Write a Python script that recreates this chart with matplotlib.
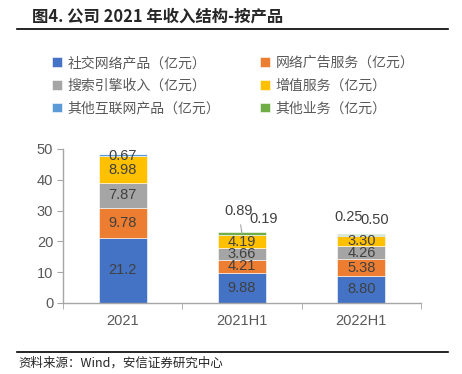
import numpy as np
import matplotlib
matplotlib.use("Agg")
import matplotlib.pyplot as plt
from matplotlib.ticker import FixedLocator

plt.rcParams["font.family"] = ["Noto Sans CJK SC", "DejaVu Sans"]

# données (亿元)
periods = ["2021", "2021H1", "2022H1"]
series_names = ["社交网络产品（亿元）", "网络广告服务（亿元）", "搜索引擎收入（亿元）",
                "增值服务（亿元）", "其他互联网产品（亿元）", "其他业务（亿元）"]
social = [21.2, 9.88, 8.80]
ads = [9.78, 4.21, 5.38]
search = [7.87, 3.66, 4.26]
vas = [8.98, 4.19, 3.30]
other_net = [0.67, 0.19, 0.25]
other_biz = [0.0, 0.89, 0.50]
colors = ["#4472C4", "#ED7D31", "#A5A5A5", "#FFC000", "#5B9BD5", "#70AD47"]

W, H = 462, 374
fig = plt.figure(figsize=(W / 100, H / 100), dpi=100)
ax = fig.add_axes([63 / W, 1 - 303 / H, (421 - 63) / W, (303 - 149) / H])

x = np.arange(len(periods))
bottom = np.zeros(len(periods))
values = [social, ads, search, vas, other_net, other_biz]
bars = []
for name, vals, col in zip(series_names, values, colors):
    b = ax.bar(x, vals, 0.4, bottom=bottom, color=col, label=name,
               edgecolor="white", linewidth=0.4)
    bars.append(b)
    bottom = bottom + np.array(vals)

lab_kw = dict(fontsize=10.5, color="#404040", family="Liberation Sans")
# étiquettes centrées pour les 4 premières séries
for vals, b in zip(values[:4], bars[:4]):
    for i, rect in enumerate(b):
        v = vals[i]
        txt = f"{v:.1f}" if v >= 20 else f"{v:.2f}"
        ax.text(rect.get_x() + rect.get_width() / 2,
                rect.get_y() + rect.get_height() / 2, txt,
                ha="center", va="center", **lab_kw)

# petites séries
tops = np.array(social) + np.array(ads) + np.array(search) + np.array(vas)
ax.text(0, tops[0] + other_net[0] / 2 - 0.3, f"{other_net[0]:.2f}",
        ha="center", va="center", **lab_kw)
ax.annotate(f"{other_biz[1]:.2f}", xy=(1, tops[1] + other_net[1] + other_biz[1] / 2),
            xytext=(0.97, 29.9), ha="center", va="center",
            arrowprops=dict(arrowstyle="-", color="#A6A6A6", lw=0.8,
                            shrinkA=3, shrinkB=0), **lab_kw)
ax.text(1.18, 27.3, f"{other_net[1]:.2f}", ha="center", va="center", **lab_kw)
ax.text(1.89, 28.0, f"{other_net[2]:.2f}", ha="center", va="center", **lab_kw)
ax.text(2.11, 27.1, f"{other_biz[2]:.2f}", ha="center", va="center", **lab_kw)

ax.set_xlim(-0.5, 2.5)
ax.set_ylim(0, 50)
ax.set_yticks(range(0, 51, 10))
ax.set_xticks(x)
ax.set_xticklabels(periods)
ax.xaxis.set_minor_locator(FixedLocator([-0.5, 0.5, 1.5, 2.5]))
ax.tick_params(axis="x", which="major", length=0, pad=8, labelsize=10.5, labelcolor="#595959")
ax.tick_params(axis="x", which="minor", length=4, color="#A6A6A6")
ax.tick_params(axis="y", length=4, color="#A6A6A6", labelsize=10.5, labelcolor="#595959", pad=3)
for lab in ax.get_xticklabels() + ax.get_yticklabels():
    lab.set_family("Liberation Sans")
for s in ["top", "right"]:
    ax.spines[s].set_visible(False)
for s in ["left", "bottom"]:
    ax.spines[s].set_color("#A6A6A6")
    ax.spines[s].set_linewidth(1.0)

# légende remplie ligne par ligne comme dans l'original
order = [0, 2, 4, 1, 3, 5]
fig.legend(handles=[bars[i] for i in order], labels=[series_names[i] for i in order],
           ncol=2, loc="upper left", bbox_to_anchor=(52 / W, 1 - 56 / H),
           frameon=False, fontsize=10, borderpad=0, borderaxespad=0,
           handlelength=0.7, handleheight=0.7, handletextpad=0.4,
           columnspacing=2.9, labelspacing=0.62, labelcolor="#595959")

# titre et pied de page
fig.text(32 / W, 1 - 17 / H, "图4. 公司 2021 年收入结构-按产品", fontsize=11.8,
         fontweight="bold", color="#262626", va="center", ha="left")
fig.add_artist(plt.Line2D([17 / W, 448 / W], [1 - 29 / H, 1 - 29 / H],
                          color="black", lw=1.2, transform=fig.transFigure))
fig.add_artist(plt.Line2D([17 / W, 448 / W], [1 - 352 / H, 1 - 352 / H],
                          color="black", lw=1.2, transform=fig.transFigure))
fig.text(18 / W, 1 - 363 / H, "资料来源：Wind，安信证券研究中心", fontsize=9,
         style="italic", color="#262626", va="center", ha="left")

fig.savefig("out.png", dpi=100)
plt.close(fig)
